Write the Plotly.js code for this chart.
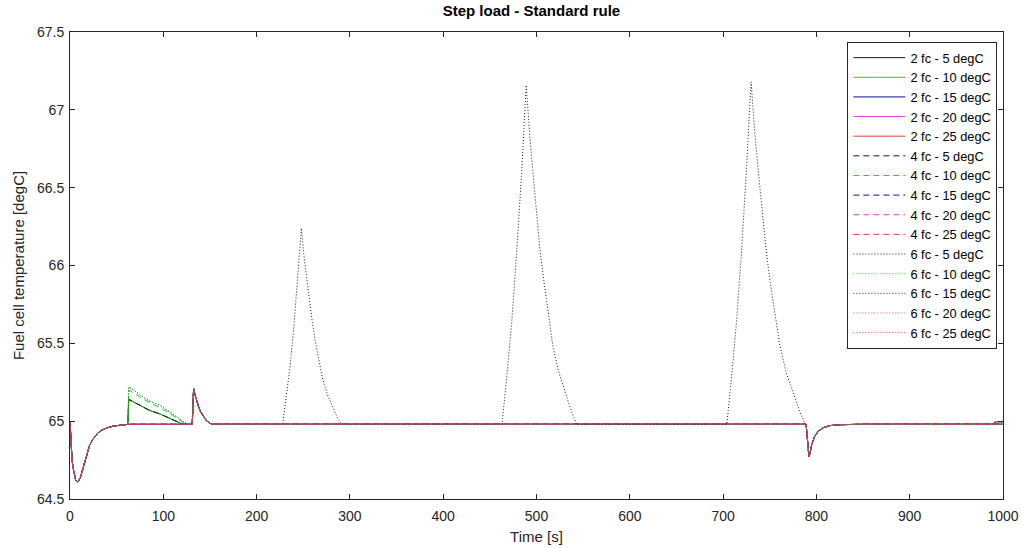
<!DOCTYPE html>
<html>
<head>
<meta charset="utf-8">
<script src="https://cdn.plot.ly/plotly-3.0.1.min.js"></script>
<style>html,body{margin:0;padding:0;background:#fff;}#chart{width:1022px;height:548px;}</style>
</head>
<body>
<div id="chart"></div>
<script>
// ---- Data ----
// start-up transient (all series)
const startT = [0, 0.5, 1, 2, 3, 4, 5, 6, 7.5, 9, 11, 13, 15, 17, 19, 21, 24, 27, 30, 34, 40, 47, 54, 62];
const startY = [65.00, 64.93, 64.87, 64.77, 64.71, 64.67, 64.64, 64.622, 64.61, 64.615, 64.635, 64.68, 64.725, 64.77, 64.81, 64.845, 64.88, 64.905, 64.925, 64.942, 64.958, 64.969, 64.975, 64.98];

// first load step (~63 s): flat / low / mid / high response
const flatBumpT = [63, 131];
const flatBumpY = [64.98, 64.98];
const lowBumpT = [63, 66, 75, 85, 97, 107, 115, 121, 131];
const lowBumpY = [65.14, 65.13, 65.10, 65.07, 65.045, 65.02, 65.00, 64.98, 64.98];
const midBumpT = [63, 66, 75, 85, 97, 107, 117, 124, 131];
const midBumpY = [65.20, 65.19, 65.155, 65.12, 65.085, 65.05, 65.01, 64.98, 64.98];
const highBumpT = [63, 66, 75, 85, 97, 107, 117, 126, 131];
const highBumpY = [65.22, 65.21, 65.17, 65.13, 65.10, 65.06, 65.02, 64.98, 64.98];

// second load step (~132 s, all series)
const step2T = [132.5, 134, 136, 138, 140, 142, 144, 146, 149, 152];
const step2Y = [65.21, 65.17, 65.125, 65.09, 65.06, 65.04, 65.02, 65.005, 64.99, 64.98];

// middle section: flat for most series
const flatMidT = [789];
const flatMidY = [64.98];
// middle section for 6 fc - 5 degC (three large peaks)
const peaksT = [228, 232, 236, 240, 244, 248, 251, 254, 256.6, 259.6, 263, 267.4, 270.8, 276, 282, 286.7, 291,
                463, 468.2, 473.4, 478.6, 483.8, 489, 492.8, 496.6, 499.8, 503.6, 507.9, 513.3, 517.6, 524.1, 531.7, 537.6, 543,
                704, 709.2, 714.4, 719.6, 724.8, 730, 734, 738, 741.6, 745.7, 750.3, 756.1, 760.7, 767.7, 775.8, 782.2, 788, 789];
const peaksY = [64.98, 65.16, 65.36, 65.61, 65.90, 66.24, 66.05, 65.90, 65.77, 65.64, 65.51, 65.37, 65.27, 65.17, 65.09, 65.02, 64.98,
                64.98, 65.29, 65.63, 66.07, 66.57, 67.16, 66.83, 66.57, 66.35, 66.11, 65.90, 65.66, 65.48, 65.31, 65.165, 65.06, 64.98,
                64.98, 65.29, 65.64, 66.08, 66.59, 67.18, 66.85, 66.59, 66.37, 66.12, 65.90, 65.66, 65.49, 65.31, 65.17, 65.06, 64.98, 64.98];

// load drop (~790 s, all series)
const dipT = [790, 791, 792, 793, 795, 798, 802, 808, 815, 830, 850, 990];
const dipY = [64.90, 64.80, 64.77, 64.79, 64.85, 64.90, 64.935, 64.96, 64.972, 64.978, 64.98, 64.98];
const endFlatT = [1000];
const endFlatY = [64.98];
const endRaiseT = [991, 1000];
const endRaiseY = [64.995, 64.995];

const seriesNames = [
  '2 fc - 5 degC', '2 fc - 10 degC', '2 fc - 15 degC', '2 fc - 20 degC', '2 fc - 25 degC',
  '4 fc - 5 degC', '4 fc - 10 degC', '4 fc - 15 degC', '4 fc - 20 degC', '4 fc - 25 degC',
  '6 fc - 5 degC', '6 fc - 10 degC', '6 fc - 15 degC', '6 fc - 20 degC', '6 fc - 25 degC'
];
// which first-step response each series has
const bumpKind = ['low', 'low', 'flat', 'flat', 'flat',
                  'low', 'mid', 'flat', 'flat', 'flat',
                  'high', 'high', 'flat', 'flat', 'flat'];
const hasPeaks = [false, false, false, false, false,
                  false, false, false, false, false,
                  true, false, false, false, false];
const hasEndRaise = [true, false, false, false, false,
                     false, false, false, false, false,
                     false, false, false, false, false];

// ---- Styles ----
const colors = ['#1a1a1a', '#1fd01f', '#1010a0', '#d040d8', '#d8463c'];
const dashes = ['solid', '6px,4px', '1px,2px'];

const bumps = {
  flat: [flatBumpT, flatBumpY],
  low: [lowBumpT, lowBumpY],
  mid: [midBumpT, midBumpY],
  high: [highBumpT, highBumpY]
};

const traces = seriesNames.map((name, i) => {
  const b = bumps[bumpKind[i]];
  const midT = hasPeaks[i] ? peaksT : flatMidT;
  const midY = hasPeaks[i] ? peaksY : flatMidY;
  const eT = hasEndRaise[i] ? endRaiseT : endFlatT;
  const eY = hasEndRaise[i] ? endRaiseY : endFlatY;
  return {
    type: 'scatter', mode: 'lines', name: name,
    x: [].concat(startT, b[0], step2T, midT, dipT, eT),
    y: [].concat(startY, b[1], step2Y, midY, dipY, eY),
    line: {color: colors[i % 5], width: 1, dash: dashes[Math.floor(i / 5)]}
  };
});

const FONT = 'Liberation Sans, Arial, sans-serif';
const axisCommon = {
  showline: true, linecolor: '#262626', linewidth: 1, mirror: 'ticks',
  ticks: 'inside', ticklen: 5, tickcolor: '#262626', showgrid: false, zeroline: false,
  tickfont: {family: FONT, size: 14, color: '#262626'}
};

const layout = {
  width: 1022, height: 548,
  paper_bgcolor: '#ffffff', plot_bgcolor: '#ffffff',
  margin: {l: 70, r: 19, t: 32, b: 49},
  title: {text: '<b>Step load - Standard rule</b>', x: 0.52, xanchor: 'center', y: 0.99, yanchor: 'top',
          font: {family: FONT, size: 15, color: '#000'}},
  xaxis: Object.assign({}, axisCommon, {
    range: [0, 1000], tickmode: 'linear', tick0: 0, dtick: 100, ticklabelstandoff: 4,
    title: {text: 'Time [s]', standoff: 8, font: {family: FONT, size: 15, color: '#262626'}}
  }),
  yaxis: Object.assign({}, axisCommon, {
    range: [64.5, 67.5], tickmode: 'linear', tick0: 64.5, dtick: 0.5, ticklabelstandoff: 2,
    title: {text: 'Fuel cell temperature [degC]', standoff: 8, font: {family: FONT, size: 15, color: '#262626'}}
  }),
  showlegend: true,
  legend: {
    x: 0.994, xanchor: 'right', y: 0.979, yanchor: 'top',
    bgcolor: '#ffffff', bordercolor: '#262626', borderwidth: 1,
    font: {family: FONT, size: 12.8, color: '#000'},
    itemwidth: 52,
    tracegroupgap: 0
  }
};

Plotly.newPlot('chart', traces, layout, {displayModeBar: false, staticPlot: true});
</script>
</body>
</html>
